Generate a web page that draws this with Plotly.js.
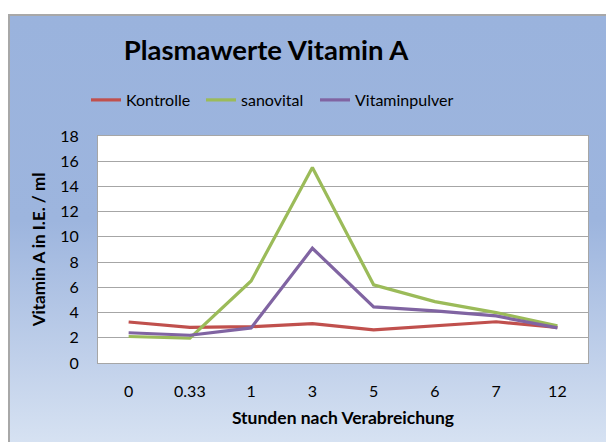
<!DOCTYPE html>
<html>
<head>
<meta charset="utf-8">
<script src="https://cdn.plot.ly/plotly-3.0.1.min.js"></script>
<style>
html,body{margin:0;padding:0;background:#fff;overflow:hidden;width:606px;height:442px;}
#frame{position:absolute;left:8px;top:14px;width:640px;height:460px;border:2px solid #a8a8a8;box-sizing:border-box;
background:linear-gradient(to bottom,#9AB3DD 0%,#9DB5DE 45%,#C0D0EA 75%,#DEE8F5 100%);}
#chart{position:absolute;left:0;top:0;width:606px;height:442px;}
</style>
</head>
<body>
<div id="frame"></div>
<div id="chart"></div>
<script>
const categories = ["0","0.33","1","3","5","6","7","12"];
const kontrolle = [3.25, 2.82, 2.88, 3.12, 2.62, 2.94, 3.27, 2.82];
const sanovital = [2.1, 1.97, 6.5, 15.5, 6.2, 4.87, 4.0, 2.94];
const vitaminpulver = [2.4, 2.2, 2.78, 9.1, 4.45, 4.13, 3.73, 2.78];
const seriesNames = ["Kontrolle","sanovital","Vitaminpulver"];
const colors = ["#C0504D","#9BBB59","#8064A2"];

const F = "Lato, 'Open Sans', sans-serif";
const legendIds = ['legend','legend2','legend3'];
const traces = [kontrolle, sanovital, vitaminpulver].map((v,i)=>({
  type:'scatter', mode:'lines', x:categories, y:v, name:seriesNames[i],
  line:{color:colors[i], width:3.2}, legend:legendIds[i]
}));

const legendX = [86, 201, 315];
function leg(px){
  return {orientation:'h', x:px/606, xanchor:'left', xref:'container', y:1-100/442, yanchor:'middle', yref:'container',
    font:{family:F,size:16}, bgcolor:'rgba(0,0,0,0)', itemwidth:30};
}

const layout = {
  width:606, height:442,
  paper_bgcolor:'rgba(0,0,0,0)', plot_bgcolor:'#ffffff',
  margin:{l:98,r:18,t:136,b:79},
  font:{family:F, size:16, color:'#000'},
  title:{text:'<b>Plasmawerte Vitamin A</b>', font:{family:F,size:27.5,color:'#000'},
    x:266/606, xanchor:'center', xref:'container', y:1-50/442, yanchor:'middle', yref:'container'},
  showlegend:true,
  legend:leg(legendX[0]), legend2:leg(legendX[1]), legend3:leg(legendX[2]),
  xaxis:{type:'category', range:[-0.5,7.5], showgrid:false, showline:true, mirror:true, linecolor:'#a6a6a6', linewidth:1,
    ticks:'outside', ticklen:14, tickcolor:'rgba(0,0,0,0)', tickfont:{family:F,size:16},
    title:{text:'<b>Stunden nach Verabreichung</b>', font:{family:F,size:17.5}, standoff:12},
    fixedrange:true},
  yaxis:{range:[0,18], dtick:2, showgrid:true, gridcolor:'#a6a6a6', gridwidth:1, zeroline:false,
    showline:true, mirror:true, linecolor:'#a6a6a6', linewidth:1,
    ticks:'outside', ticklen:15, tickcolor:'rgba(0,0,0,0)', tickfont:{family:F,size:16},
    title:{text:'<b>Vitamin A in I.E. / ml</b>', font:{family:F,size:17}, standoff:10},
    fixedrange:true}
};
Plotly.newPlot('chart', traces, layout, {displayModeBar:false, staticPlot:true});
</script>
</body>
</html>
